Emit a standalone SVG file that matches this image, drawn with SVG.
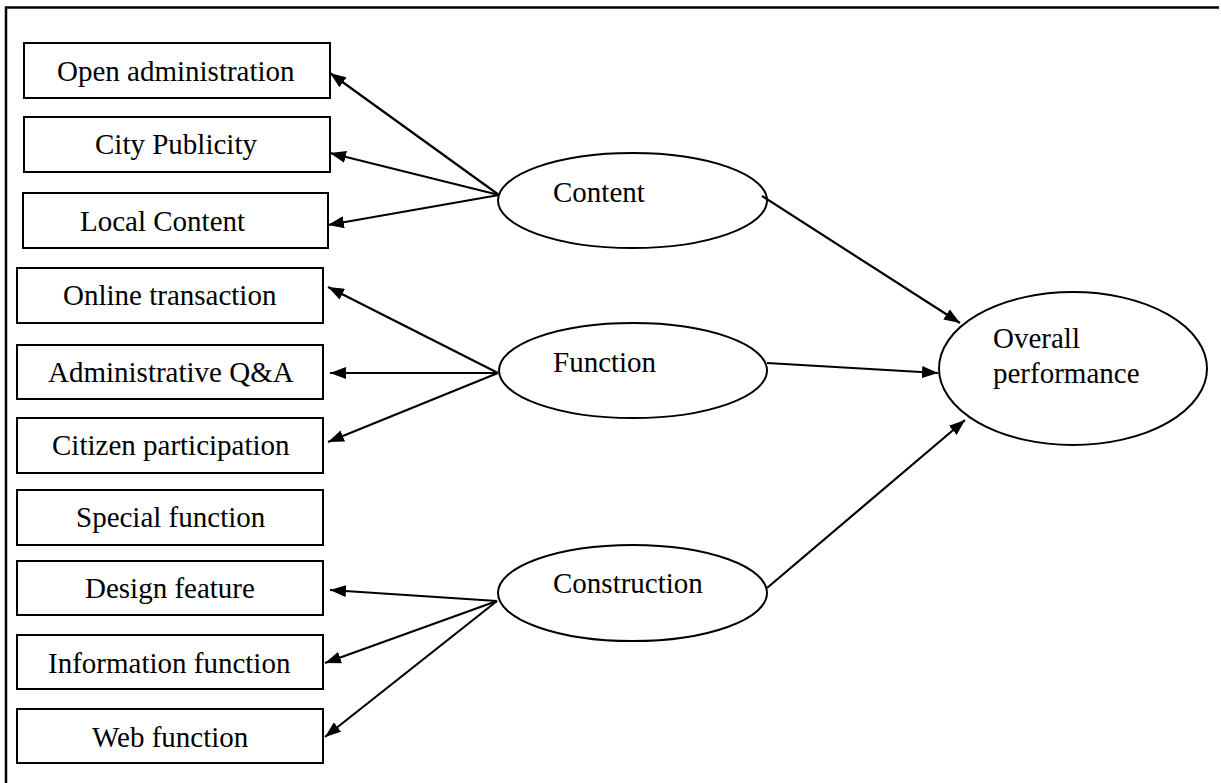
<svg xmlns="http://www.w3.org/2000/svg" width="1221" height="783" viewBox="0 0 1221 783">
  <style>
    .box { fill: #fff; stroke: #000; stroke-width: 2; }
    .oval { fill: #fff; stroke: #000; stroke-width: 2; }
    .lbl { font-family: "Liberation Serif", "Times New Roman", serif; font-size: 29px; fill: #000; }
    .edge { stroke: #000; stroke-width: 2.2; fill: none; marker-end: url(#arrow); }
  </style>
  <defs>
    <marker id="arrow" viewBox="0 0 16 12" markerWidth="16" markerHeight="12" markerUnits="userSpaceOnUse" refX="16" refY="6" orient="auto">
      <path d="M0,0 L16,6 L0,12 z" fill="#000"/>
    </marker>
  </defs>
  <rect width="1221" height="783" fill="#fff"/>

  <!-- frame: top and left rules -->
  <path d="M6,783 V7.5 H1219" fill="none" stroke="#000" stroke-width="2.5"/>

  <!-- indicator boxes -->
  <g id="open-administration"><rect class="box" x="24" y="43" width="306" height="55"/><text class="lbl" x="57" y="81">Open administration</text></g>
  <g id="city-publicity"><rect class="box" x="24" y="117" width="306" height="55"/><text class="lbl" x="95" y="154">City Publicity</text></g>
  <g id="local-content"><rect class="box" x="23" y="193" width="305" height="55"/><text class="lbl" x="80" y="231">Local Content</text></g>
  <g id="online-transaction"><rect class="box" x="17" y="268" width="306" height="55"/><text class="lbl" x="63" y="305">Online transaction</text></g>
  <g id="administrative-qa"><rect class="box" x="17" y="345" width="306" height="54"/><text class="lbl" x="48" y="382">Administrative Q&amp;A</text></g>
  <g id="citizen-participation"><rect class="box" x="17" y="418" width="306" height="55"/><text class="lbl" x="52" y="455">Citizen participation</text></g>
  <g id="special-function"><rect class="box" x="17" y="490" width="306" height="55"/><text class="lbl" x="76" y="527">Special function</text></g>
  <g id="design-feature"><rect class="box" x="17" y="561" width="306" height="54"/><text class="lbl" x="85" y="598">Design feature</text></g>
  <g id="information-function"><rect class="box" x="17" y="635" width="306" height="54"/><text class="lbl" x="48" y="673">Information function</text></g>
  <g id="web-function"><rect class="box" x="17" y="709" width="306" height="54"/><text class="lbl" x="92" y="747">Web function</text></g>

  <!-- latent variables -->
  <g id="content"><ellipse class="oval" cx="632.5" cy="200.5" rx="134.5" ry="47.5"/><text class="lbl" x="553" y="202">Content</text></g>
  <g id="function"><ellipse class="oval" cx="633" cy="370.5" rx="134" ry="47.5"/><text class="lbl" x="553" y="372">Function</text></g>
  <g id="construction"><ellipse class="oval" cx="632.5" cy="593" rx="134.5" ry="48"/><text class="lbl" x="553" y="593">Construction</text></g>
  <g id="overall-performance"><ellipse class="oval" cx="1073" cy="368.5" rx="134" ry="76.5"/><text class="lbl" x="993" y="348">Overall</text><text class="lbl" x="993" y="383">performance</text></g>

  <!-- connectors -->
  <g id="connectors">
    <line class="edge" x1="499" y1="195" x2="330" y2="73"/>
    <line class="edge" x1="499" y1="195" x2="330" y2="153"/>
    <line class="edge" x1="499" y1="195" x2="328" y2="225"/>
    <line class="edge" x1="498" y1="373" x2="328" y2="287"/>
    <line class="edge" x1="498" y1="373" x2="330" y2="373"/>
    <line class="edge" x1="498" y1="373" x2="328" y2="442"/>
    <line class="edge" x1="497" y1="601" x2="330" y2="590"/>
    <line class="edge" x1="497" y1="601" x2="325" y2="663"/>
    <line class="edge" x1="497" y1="601" x2="325" y2="737"/>
    <line class="edge" x1="762" y1="196" x2="960" y2="323"/>
    <line class="edge" x1="767" y1="363" x2="938" y2="373"/>
    <line class="edge" x1="767" y1="588" x2="965" y2="420"/>
  </g>
</svg>
